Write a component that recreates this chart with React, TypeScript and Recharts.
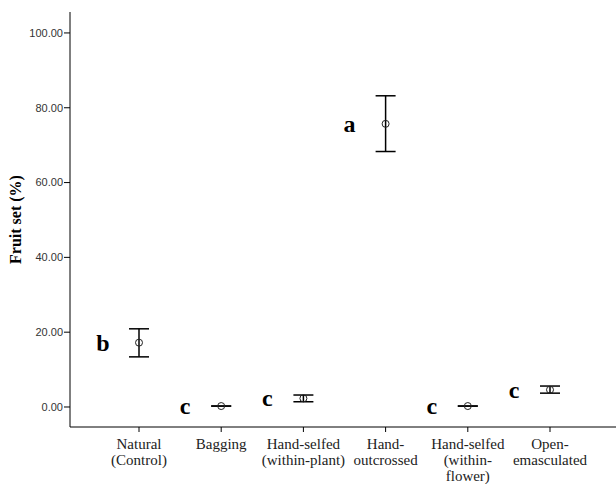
import React from 'react';
import { ComposedChart, Scatter, XAxis, YAxis, ErrorBar } from 'recharts';

// fruit set by pollination treatment (mean with error bar ends)
const groups = [
  'Natural\n(Control)',
  'Bagging',
  'Hand-selfed\n(within-plant)',
  'Hand-\noutcrossed',
  'Hand-selfed\n(within-\nflower)',
  'Open-\nemasculated',
];
const means = [17.2, 0.25, 2.3, 75.7, 0.25, 4.6];
const lower = [13.4, 0.25, 1.4, 68.3, 0.25, 3.7];
const upper = [20.9, 0.25, 3.2, 83.2, 0.25, 5.6];
const letters = ['b', 'c', 'c', 'a', 'c', 'c'];
const yTicks = [0, 20, 40, 60, 80, 100];

const data = groups.map((g, i) => ({
  group: g,
  mean: means[i],
  err: [means[i] - lower[i], upper[i] - means[i]],
  letter: letters[i],
}));

const GroupTick = (props: any) => {
  const { x, y, payload } = props;
  const lines = String(payload.value).split('\n');
  return (
    <text x={x} y={y} textAnchor="middle" fontFamily="'Liberation Serif', serif" fontSize={15} fill="#222">
      {lines.map((l, i) => (
        <tspan key={i} x={x} dy={i === 0 ? 15 : 16}>{l}</tspan>
      ))}
    </text>
  );
};

const MeanDot = (props: any) => {
  const { cx, cy, payload } = props;
  return (
    <g>
      <circle cx={cx} cy={cy} r={3.5} fill="none" stroke="#222" strokeWidth={1} />
      <text
        x={cx - 36}
        y={cy + 8}
        textAnchor="middle"
        fontFamily="'Liberation Serif', serif"
        fontWeight="bold"
        fontSize={24}
        fill="#000"
      >
        {payload.letter}
      </text>
    </g>
  );
};

const App = () => {
  return (
    <div style={{ position: 'absolute', left: 0, top: 0, background: '#fff' }}>
      <ComposedChart width={616} height={484} data={data} margin={{ top: 12, right: 0, bottom: 0, left: 0 }}>
        <XAxis
          xAxisId="top"
          orientation="top"
          dataKey="group"
          tick={false}
          tickLine={false}
          height={0}
          stroke="#000"
          padding={{ left: 69, right: 66 }}
        />
        <XAxis
          dataKey="group"
          interval={0}
          height={57}
          tickSize={5}
          tickMargin={2}
          stroke="#000"
          tick={<GroupTick />}
          padding={{ left: 69, right: 66 }}
        />
        <YAxis
          width={70}
          domain={[-5.35, 105.6]}
          ticks={yTicks}
          tickFormatter={(v: number) => v.toFixed(2)}
          tickSize={6}
          tickMargin={1}
          stroke="#000"
          tick={{ fontFamily: "'Liberation Sans', Arial, sans-serif", fontSize: 11, fill: '#333' }}
          label={{
            value: 'Fruit set (%)',
            angle: -90,
            position: 'insideLeft',
            offset: 15,
            style: { fontFamily: "'Liberation Serif', serif", fontWeight: 'bold', fontSize: 16, fill: '#000', textAnchor: 'middle' },
          }}
        />
        <Scatter dataKey="mean" shape={<MeanDot />} isAnimationActive={false}>
          <ErrorBar dataKey="err" direction="y" width={10} stroke="#000" strokeWidth={1.5} />
        </Scatter>
      </ComposedChart>
    </div>
  );
};

export default App;
